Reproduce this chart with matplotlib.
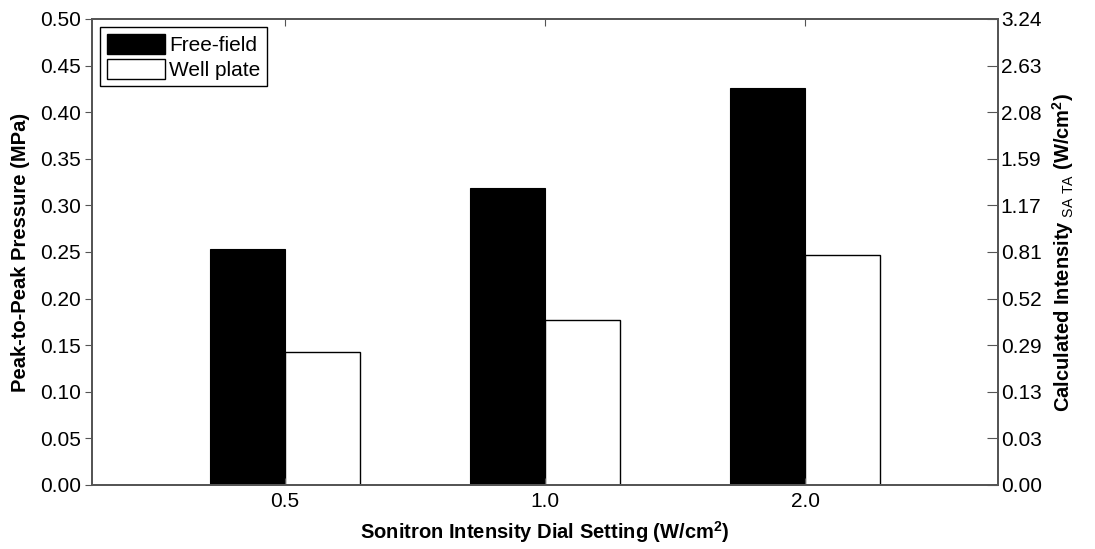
import numpy as np
import matplotlib.pyplot as plt
from matplotlib.patches import Patch

plt.rcParams['font.family'] = ['Liberation Sans', 'DejaVu Sans']
plt.rcParams['mathtext.fontset'] = 'custom'
plt.rcParams['mathtext.rm'] = 'Liberation Sans'
plt.rcParams['mathtext.bf'] = 'Liberation Sans:bold'

settings = ['0.5', '1.0', '2.0']
free_field = [0.253, 0.319, 0.426]
well_plate = [0.143, 0.177, 0.247]
left_ticks = [0.00, 0.05, 0.10, 0.15, 0.20, 0.25, 0.30, 0.35, 0.40, 0.45, 0.50]
right_labels = ['0.00', '0.03', '0.13', '0.29', '0.52', '0.81', '1.17', '1.59', '2.08', '2.63', '3.24']

fig = plt.figure(figsize=(10.95, 5.49), dpi=100)
ax = fig.add_axes([0.084, 0.1166, 0.8274, 0.8488])

x = np.arange(1, len(settings) + 1)
w = 0.29
ax.bar(x - w/2, free_field, w, color='black', edgecolor='black', linewidth=0.8)
ax.bar(x + w/2, well_plate, w, color='white', edgecolor='black', linewidth=1.0)

ax.set_xlim(0.258, 3.742)
ax.set_ylim(0, 0.5)
ax.set_xticks(x)
ax.set_xticklabels(settings, fontsize=15)
ax.set_yticks(left_ticks)
ax.set_yticklabels(['%.2f' % v for v in left_ticks], fontsize=15)
ax.tick_params(axis='y', direction='out', length=5, color='#555555', pad=3)
ax.tick_params(axis='x', direction='in', length=5, top=True, color='#555555', pad=5)
for s in ax.spines.values():
    s.set_color('#555555')
    s.set_linewidth(1.3)

ax.set_xlabel(r'Sonitron Intensity Dial Setting (W/cm$^{\mathbf{2}}$)', fontsize=14.5, fontweight='bold', labelpad=6)
ax.set_ylabel('Peak-to-Peak Pressure (MPa)', fontsize=14.5, fontweight='bold', labelpad=7)

ax2 = ax.twinx()
ax2.set_ylim(0, 0.5)
ax2.set_yticks(left_ticks)
ax2.set_yticklabels(right_labels, fontsize=15)
ax2.tick_params(axis='y', direction='in', length=8, color='#555555', pad=2)
for s in ax2.spines.values():
    s.set_color('#555555')
    s.set_linewidth(1.3)
ax2.set_ylabel(r'Calculated Intensity$_{\mathrm{\ SA\ TA}}$ (W/cm$^{\mathbf{2}}$)', fontsize=14.5, fontweight='bold', labelpad=6)

handles = [Patch(facecolor='black', edgecolor='black', label='Free-field'),
           Patch(facecolor='white', edgecolor='black', label='Well plate')]
leg = ax.legend(handles=handles, loc='upper left', fontsize=15, fancybox=False,
                edgecolor='black', framealpha=1, handlelength=2.8, handleheight=1.1,
                handletextpad=0.2, borderaxespad=0.4, borderpad=0.3, labelspacing=0.2)
leg.get_frame().set_linewidth(1.0)

fig.savefig('out.png', dpi=100)
